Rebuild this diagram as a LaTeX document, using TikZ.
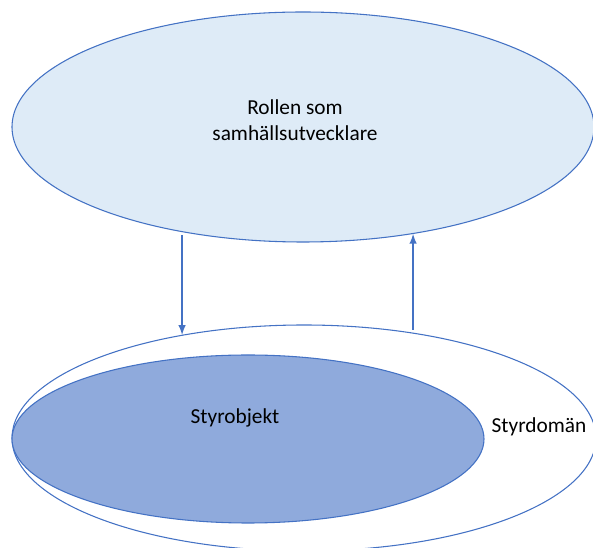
\documentclass[tikz,border=0pt]{standalone}
\usepackage{fontspec}
\setmainfont{Carlito}
\usepackage{tikz}
\usetikzlibrary{shapes.geometric}
\usepackage{xcolor}

\definecolor{officeblue}{HTML}{4472C4}
\definecolor{rolefill}{HTML}{DEEBF7}
\definecolor{objfill}{HTML}{8FAADC}

\begin{document}
\begin{tikzpicture}[x=0.75pt,y=-0.75pt,
  ring/.style={ellipse, draw=officeblue, line width=0.8pt, inner sep=0pt},
  flow/.style={officeblue, line width=1.5pt, -latex, shorten <=2pt},
  lbl/.style={font=\fontsize{16}{19.5}\selectfont, align=center, inner sep=0pt}]
\useasboundingbox (0,0) rectangle (593,548);
\clip (0,0) rectangle (593,548);

% bottom: domain with object inside
\node [ring, minimum width=438pt, minimum height=169.5pt] (domain) at (304,438) {};
\node [ring, fill=objfill, minimum width=354pt, minimum height=126pt] (object) at (248,439) {};
% top: role
\node [ring, fill=rolefill, minimum width=436.5pt, minimum height=172.5pt] (role) at (303,127) {};

\node [lbl] (roletext) at (295,120) {Rollen som\\samhällsutvecklare};
\node [lbl] (objtext) at (235,418) {Styrobjekt};
\node [lbl] (domtext) at (539,427) {Styrdomän};

\draw [flow] (role.221) -- (role.221 |- domain.140);
\draw [flow] (domain.44) -- (domain.44 |- role.316);

\end{tikzpicture}
\end{document}
